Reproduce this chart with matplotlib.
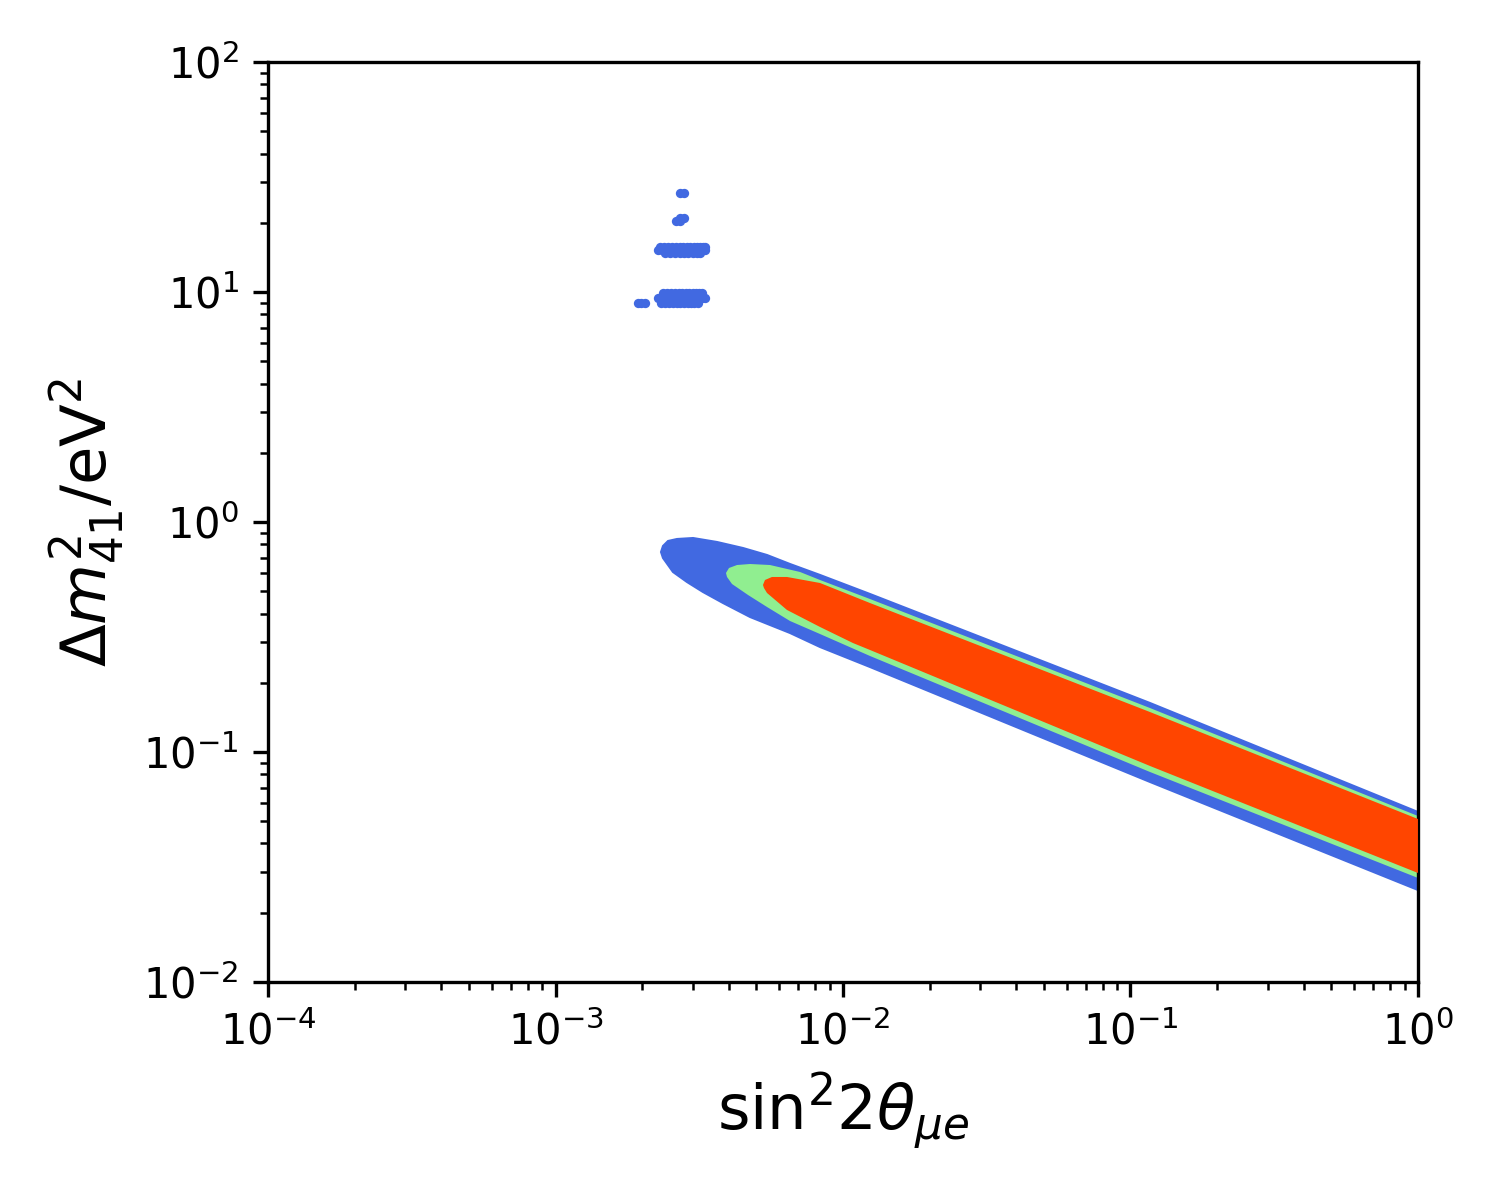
import matplotlib
matplotlib.use("Agg")
import matplotlib.pyplot as plt

# ---- data: allowed-region boundaries (sin^2 2theta_mue, dm^2_41 [eV^2]) ----
# outer region (blue): upper edge left->right, then lower edge right->left
blue_x = [2.328e-3, 2.365e-3, 2.462e-3, 2.646e-3, 3.009e-3, 3.646e-3, 4.490e-3, 5.441e-3,
          6.540e-3, 8.318e-3, 1.241e-2, 0.1169, 1.0,
          1.0, 0.1169, 1.241e-2, 8.318e-3, 6.540e-3, 5.573e-3, 4.749e-3, 3.825e-3,
          3.258e-3, 2.866e-3, 2.562e-3, 2.365e-3]
blue_y = [0.7404, 0.7863, 0.8268, 0.8435, 0.8518, 0.8185, 0.7706, 0.7185,
          0.6567, 0.5884, 0.4864, 0.1633, 0.05483,
          0.02512, 0.07408, 0.2342, 0.2861, 0.3292, 0.3566, 0.3864, 0.4444,
          0.4962, 0.5484, 0.6063, 0.6975]

# middle region (green)
green_x = [3.917e-3, 4.013e-3, 4.279e-3, 4.749e-3, 5.573e-3, 7.087e-3, 8.318e-3, 1.241e-2, 0.1169, 1.0,
           1.0, 0.1169, 1.241e-2, 8.318e-3, 6.540e-3, 5.441e-3, 4.673e-3, 4.111e-3, 3.949e-3]
green_y = [0.6003, 0.6310, 0.6501, 0.6567, 0.6501, 0.6063, 0.5595, 0.4626, 0.1553, 0.05268,
           0.02833, 0.08185, 0.2615, 0.3258, 0.3712, 0.4270, 0.4816, 0.5375, 0.5767]

# inner region (red)
red_x = [5.268e-3, 5.353e-3, 5.662e-3, 6.385e-3, 8.318e-3, 1.241e-2, 0.1169, 1.0,
         1.0, 0.1169, 1.241e-2, 1.083e-2, 8.318e-3, 6.385e-3, 5.441e-3, 5.310e-3]
red_y = [0.5324, 0.5595, 0.5767, 0.5767, 0.5430, 0.4444, 0.1492, 0.05112,
         0.02978, 0.08693, 0.2777, 0.2977, 0.3496, 0.4145, 0.4913, 0.5164]

# isolated island of allowed points (blue), one list of x per row of dm^2
island_rows_y = [26.9, 20.9, 20.4, 15.7, 15.2, 14.8, 9.9, 9.4, 9.0]
island_rows_x = [
    [2.71e-3, 2.80e-3],
    [2.71e-3, 2.80e-3],
    [2.62e-3, 2.70e-3],
    [2.30e-3, 2.38e-3, 2.46e-3, 2.54e-3, 2.62e-3, 2.70e-3, 2.78e-3, 2.86e-3, 2.94e-3, 3.02e-3, 3.10e-3, 3.18e-3, 3.26e-3, 3.31e-3],
    [2.27e-3, 2.35e-3, 2.43e-3, 2.51e-3, 2.59e-3, 2.67e-3, 2.75e-3, 2.83e-3, 2.91e-3, 2.99e-3, 3.07e-3, 3.15e-3, 3.23e-3, 3.30e-3],
    [2.40e-3, 2.50e-3, 2.60e-3, 2.70e-3, 2.80e-3, 2.90e-3, 3.00e-3, 3.10e-3, 3.18e-3],
    [2.36e-3, 2.44e-3, 2.52e-3, 2.60e-3, 2.68e-3, 2.76e-3, 2.84e-3, 2.92e-3, 3.00e-3, 3.08e-3, 3.16e-3, 3.22e-3],
    [2.28e-3, 2.36e-3, 2.44e-3, 2.52e-3, 2.60e-3, 2.68e-3, 2.76e-3, 2.84e-3, 2.92e-3, 3.00e-3, 3.08e-3, 3.16e-3, 3.24e-3, 3.32e-3],
    [1.93e-3, 1.98e-3, 2.04e-3, 2.32e-3, 2.40e-3, 2.48e-3, 2.56e-3, 2.64e-3, 2.72e-3, 2.80e-3, 2.88e-3, 2.96e-3, 3.04e-3, 3.12e-3],
]

island_x = [x for xs in island_rows_x for x in xs]
island_y = [y for y, xs in zip(island_rows_y, island_rows_x) for _ in xs]

fig = plt.figure(figsize=(5, 4), dpi=300)
ax = fig.add_axes([0.1787, 0.1817, 0.7666, 0.7666])

ax.fill(blue_x, blue_y, color='royalblue', lw=0.5, ec='royalblue', zorder=1)
ax.fill(green_x, green_y, color='lightgreen', lw=0, zorder=2)
ax.fill(red_x, red_y, color='orangered', lw=0, zorder=3)
ax.scatter(island_x, island_y, s=5.0, color='royalblue', lw=0, zorder=1)

ax.set_xscale('log')
ax.set_yscale('log')
ax.set_xlim(1e-4, 1)
ax.set_ylim(1e-2, 1e2)
ax.set_xlabel(r'$\mathrm{sin}^2 2\theta_{\mu e}$', fontsize=15)
ax.set_ylabel(r'$\Delta m^2_{41}/\mathrm{eV}^2$', fontsize=15)

fig.savefig('out.png', dpi=300)
